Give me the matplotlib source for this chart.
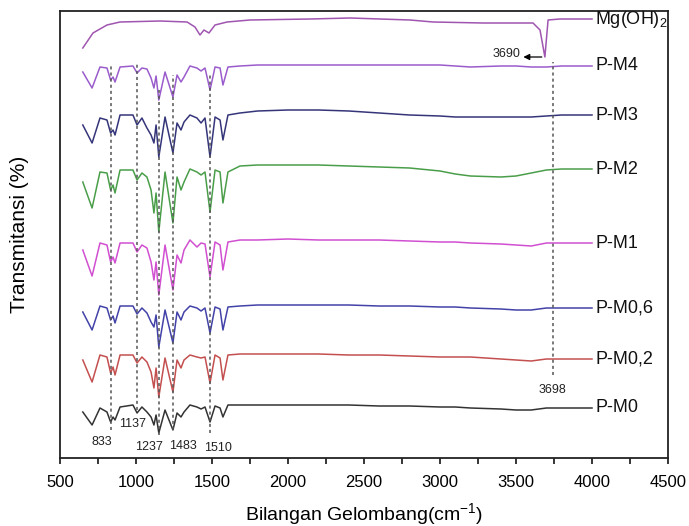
import matplotlib
matplotlib.use("Agg")
import matplotlib.pyplot as plt

plt.rcParams['font.family'] = ['Liberation Sans', 'DejaVu Sans']
plt.rcParams['mathtext.fontset'] = 'custom'
plt.rcParams['mathtext.rm'] = 'Liberation Sans'
plt.rcParams['mathtext.it'] = 'Liberation Sans:italic'
plt.rcParams['mathtext.default'] = 'rm'

# Wavenumber knots (cm^-1) shared by the P-M spectra
wavenumber = [650, 711, 763, 809, 833, 849, 862, 895, 980, 1007,
              1039, 1072, 1099, 1118, 1132, 1150, 1191, 1243, 1270, 1296,
              1316, 1355, 1401, 1428, 1454, 1487, 1520, 1553, 1572, 1605,
              1684, 1800, 2000, 2200, 2400, 2600, 2800, 3000, 3100, 3200,
              3400, 3500, 3600, 3700, 3800, 4000]

# Transmittance (arbitrary offset units)
t_pm4 = [386, 370, 391, 390, 378, 381, 376, 391, 392, 385, 390, 389, 380, 370, 382, 358,
         386, 361, 383, 376, 381, 392, 390, 387, 390, 368, 391, 390, 373, 391, 392, 393,
         393, 393, 393, 393, 393, 393, 392, 391, 392, 392, 391, 391, 392, 392]
t_pm3 = [333, 315, 340, 338, 325, 328, 323, 343, 343, 333, 340, 330, 323, 315, 333, 301,
         341, 305, 335, 328, 336, 343, 340, 335, 340, 301, 341, 338, 318, 343, 345, 347,
         348, 348, 347, 345, 343, 342, 341, 341, 341, 341, 341, 342, 343, 343]
t_pm2 = [276, 250, 286, 285, 268, 273, 265, 288, 288, 278, 285, 281, 268, 245, 265, 226,
         286, 235, 281, 268, 276, 289, 286, 283, 286, 246, 288, 286, 255, 286, 292, 293,
         293, 293, 292, 291, 290, 287, 284, 282, 281, 282, 285, 288, 289, 289]
t_pm1 = [208, 182, 215, 213, 196, 201, 195, 215, 215, 206, 213, 210, 196, 178, 196, 163,
         213, 168, 203, 195, 208, 218, 211, 215, 214, 181, 216, 213, 188, 216, 218, 218,
         219, 218, 218, 218, 217, 216, 216, 215, 214, 213, 212, 215, 215, 215]
t_pm06 = [146, 128, 152, 150, 138, 142, 135, 152, 152, 144, 150, 145, 136, 131, 143, 111,
          148, 115, 146, 138, 146, 152, 150, 147, 150, 125, 151, 149, 128, 151, 152, 153,
          153, 153, 153, 152, 152, 151, 151, 150, 149, 148, 148, 150, 150, 150]
t_pm02 = [98, 76, 103, 101, 85, 91, 83, 103, 103, 95, 101, 96, 86, 70, 90, 61,
          100, 66, 98, 90, 98, 103, 101, 100, 101, 75, 103, 100, 78, 103, 104, 104,
          104, 104, 103, 103, 102, 101, 101, 101, 99, 98, 97, 99, 99, 99]
t_pm0 = [46, 33, 50, 46, 36, 41, 38, 51, 53, 45, 51, 46, 41, 33, 43, 25,
         48, 28, 45, 41, 46, 53, 51, 49, 51, 36, 52, 50, 41, 53, 53, 53,
         53, 53, 53, 52, 52, 51, 51, 50, 49, 48, 48, 50, 50, 50]

wavenumber_mg = [650, 717, 809, 895, 1158, 1336, 1388, 1421, 1447, 1480, 1520, 1599, 1750,
                 2145, 2408, 2803, 2954, 3283, 3395, 3612, 3658, 3690, 3711, 3789, 4000]
t_mg = [410, 425, 433, 436, 437, 436, 431, 423, 428, 425, 433, 436, 438,
        439, 440, 438, 436, 435, 435, 435, 428, 401, 438, 439, 439]

series_names = ["Mg(OH)$_2$", "P-M4", "P-M3", "P-M2", "P-M1", "P-M0,6", "P-M0,2", "P-M0"]
series_colors = ["#a055b0", "#9a5ccc", "#35357a", "#4a9e4a", "#d14fd1", "#4242a8", "#c44f4f", "#333333"]
label_levels = [439, 392, 343, 289, 215, 150, 99, 50]

# Marked peaks: dashed guide x, top, bottom, and label texts with their positions
guide_x = [833, 1007, 1150, 1243, 1487]
guide_top = [394, 396, 368, 383, 383]
guide_bottom = [28, 48, 23, 28, 25]
peak_labels = ["833", "1137", "1237", "1483", "1510"]
peak_label_x = [776, 980, 1086, 1309, 1539]
peak_label_y = [16, 34, 11, 12, 10]

oh_guide_x = 3743
oh_guide_top, oh_guide_bottom = 396, 83
oh_label = "3698"
mg_peak_label = "3690"

fig = plt.figure(figsize=(6.89, 5.26), dpi=100)
ax = fig.add_axes([60/689, 68/526, 608/689, 447/526])

spectra = [t_pm4, t_pm3, t_pm2, t_pm1, t_pm06, t_pm02, t_pm0]
ax.plot(wavenumber_mg, t_mg, color=series_colors[0], lw=1.1)
for vals, col in zip(spectra, series_colors[1:]):
    ax.plot(wavenumber, vals, color=col, lw=1.1)

for name, lvl in zip(series_names, label_levels):
    ax.text(4020, lvl, name, fontsize=13, ha='left', va='center', color='#111111')

for gx, gt, gb in zip(guide_x, guide_top, guide_bottom):
    ax.plot([gx, gx], [gb, gt], color='#555555', lw=1.1, ls=(0, (2, 2)))
for txt, lx, ly in zip(peak_labels, peak_label_x, peak_label_y):
    ax.text(lx, ly, txt, fontsize=9, ha='center', va='center', color='#222222')

ax.plot([oh_guide_x, oh_guide_x], [oh_guide_bottom, oh_guide_top], color='#555555', lw=1.1, ls=(0, (2, 2)))
ax.text(oh_guide_x, 68, oh_label, fontsize=9, ha='center', va='center', color='#222222')

ax.annotate('', xy=(3530, 401), xytext=(3688, 401),
            arrowprops=dict(arrowstyle='-|>', color='black', lw=0.9, mutation_scale=9))
ax.text(3527, 404, mg_peak_label, fontsize=9, ha='right', va='center', color='#222222')

ax.set_xlim(500, 4500)
ax.set_ylim(0, 447)
ax.set_xticks([500, 1000, 1500, 2000, 2500, 3000, 3500, 4000, 4500])
ax.set_xticks([750, 1250, 1750, 2250, 2750, 3250, 3750, 4250], minor=True)
ax.set_yticks([])
ax.tick_params(axis='x', which='both', direction='out', length=4, width=1.1, labelsize=12, pad=8)
for sp in ax.spines.values():
    sp.set_linewidth(1.3)
    sp.set_color('#222222')

ax.set_xlabel("Bilangan Gelombang(cm$^{-1}$)", fontsize=14, labelpad=8)
ax.set_ylabel("Transmitansi (%)", fontsize=15, labelpad=22)

fig.savefig("out.png", dpi=100)
